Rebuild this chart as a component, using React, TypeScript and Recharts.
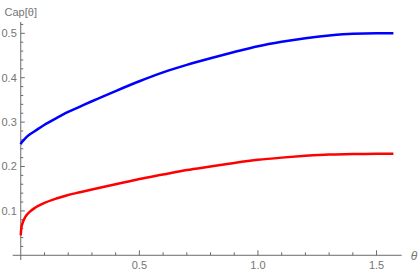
import React from 'react';
import { LineChart, Line, XAxis, YAxis, ReferenceLine, ReferenceDot } from 'recharts';

// sampled theta values (0 .. pi/2)
const theta = [0, 0.002, 0.005, 0.01, 0.02, 0.04, 0.06, 0.1, 0.15, 0.2, 0.25, 0.3, 0.4, 0.5, 0.6, 0.7, 0.8, 0.9, 1.0, 1.1, 1.2, 1.3, 1.4, 1.5, 1.571];
const capBlue = [0.25, 0.2526, 0.255, 0.258, 0.264, 0.273, 0.28, 0.294, 0.309, 0.323, 0.335, 0.347, 0.37, 0.392, 0.412, 0.429, 0.444, 0.458, 0.471, 0.481, 0.489, 0.495, 0.499, 0.5, 0.5];
const capRed = [0.045, 0.06, 0.068, 0.076, 0.087, 0.099, 0.107, 0.118, 0.128, 0.136, 0.142, 0.148, 0.16, 0.172, 0.182, 0.192, 0.2, 0.208, 0.215, 0.22, 0.224, 0.227, 0.228, 0.229, 0.229];

const xMajorTicks = [0.5, 1.0, 1.5];
const xMinorTicks = [0.1, 0.2, 0.3, 0.4, 0.6, 0.7, 0.8, 0.9, 1.1, 1.2, 1.3, 1.4];
const yMajorTicks = [0.1, 0.2, 0.3, 0.4, 0.5];
const yMinorTicks = [0.02, 0.04, 0.06, 0.08, 0.12, 0.14, 0.16, 0.18, 0.22, 0.24, 0.26, 0.28, 0.32, 0.34, 0.36, 0.38, 0.42, 0.44, 0.46, 0.48, 0.52];

const X_DOMAIN: [number, number] = [-0.034, 1.606];
const Y_DOMAIN: [number, number] = [-0.0106, 0.5255];

const blueData = theta.map((t, i) => ({ theta: t, cap: capBlue[i] }));
const redData = theta.map((t, i) => ({ theta: t, cap: capRed[i] }));

const AXIS = '#6b6b6b';
const TEXT = '#757575';
const FONT = '"Liberation Sans", Arial, sans-serif';

const fmt = (v: number) => v.toFixed(1);

export default function App() {
  return (
    <div style={{ position: 'absolute', left: 0, top: 0, fontFamily: FONT }}>
      <LineChart width={418} height={275} margin={{ top: 22, right: 16.3, bottom: 15, left: 12.7 }}>
        <XAxis type="number" dataKey="theta" domain={X_DOMAIN} allowDataOverflow hide />
        <YAxis type="number" domain={Y_DOMAIN} allowDataOverflow hide />

        {/* axes through the origin */}
        <ReferenceLine y={0} stroke={AXIS} strokeWidth={1} />
        <ReferenceLine x={0} stroke={AXIS} strokeWidth={1} />

        {xMajorTicks.map((t) => (
          <ReferenceLine key={'xM' + t} segment={[{ x: t, y: 0 }, { x: t, y: 0.0113 }]} stroke={AXIS} />
        ))}
        {xMinorTicks.map((t) => (
          <ReferenceLine key={'xm' + t} segment={[{ x: t, y: 0 }, { x: t, y: 0.0068 }]} stroke={AXIS} />
        ))}
        {yMajorTicks.map((t) => (
          <ReferenceLine key={'yM' + t} segment={[{ x: 0, y: t }, { x: 0.0169, y: t }]} stroke={AXIS} />
        ))}
        {yMinorTicks.map((t) => (
          <ReferenceLine key={'ym' + t} segment={[{ x: 0, y: t }, { x: 0.0105, y: t }]} stroke={AXIS} />
        ))}

        {xMajorTicks.map((t) => (
          <ReferenceDot
            key={'xl' + t}
            x={t}
            y={0}
            r={0}
            stroke="none"
            label={{ value: fmt(t), position: 'bottom', offset: 6, fill: TEXT, fontSize: 11, fontFamily: FONT }}
          />
        ))}
        {yMajorTicks.map((t) => (
          <ReferenceDot
            key={'yl' + t}
            x={0}
            y={t}
            r={0}
            stroke="none"
            label={{ value: fmt(t), position: 'left', offset: 4, fill: TEXT, fontSize: 11, fontFamily: FONT }}
          />
        ))}

        <ReferenceDot
          x={0}
          y={Y_DOMAIN[1]}
          r={0}
          stroke="none"
          label={{ value: 'Cap[θ]', position: 'top', offset: 6, fill: TEXT, fontSize: 11, fontFamily: FONT }}
        />
        <ReferenceDot
          x={X_DOMAIN[1]}
          y={0}
          r={0}
          stroke="none"
          label={{ value: 'θ', position: 'right', offset: 9, fill: TEXT, fontSize: 12, fontFamily: FONT, fontStyle: 'italic' }}
        />

        <Line data={blueData} dataKey="cap" type="monotone" stroke="#0000ff" strokeWidth={2.5} dot={false} isAnimationActive={false} />
        <Line data={redData} dataKey="cap" type="monotone" stroke="#ff0000" strokeWidth={2.5} dot={false} isAnimationActive={false} />
      </LineChart>
    </div>
  );
}
